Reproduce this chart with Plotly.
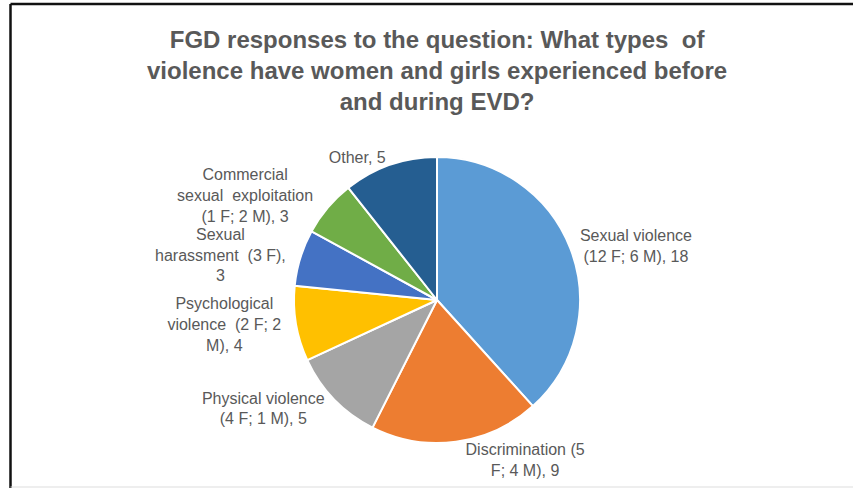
import plotly.graph_objects as go

labels = ["Sexual violence", "Discrimination", "Physical violence", "Psychological violence",
          "Sexual harassment", "Commercial sexual exploitation", "Other"]
values = [18, 9, 5, 4, 3, 3, 5]
label_text = [
    "Sexual violence<br>(12 F; 6 M), 18",
    "Discrimination (5<br>F; 4 M), 9",
    "Physical violence<br>(4 F; 1 M), 5",
    "Psychological<br>violence  (2 F; 2<br>M), 4",
    "Sexual<br>harassment  (3 F),<br>3",
    "Commercial<br>sexual  exploitation<br>(1 F; 2 M), 3",
    "Other, 5",
]
colors = ["#5B9BD5", "#ED7D31", "#A5A5A5", "#FFC000", "#4472C4", "#70AD47", "#255E91"]

W, H = 853, 488
cx, cy, r = 437, 300, 143

fig = go.Figure(go.Pie(
    labels=labels, values=values, text=label_text,
    texttemplate="%{text}", textinfo="text", textposition="outside",
    sort=False, direction="clockwise", rotation=0,
    marker=dict(colors=colors, line=dict(color="white", width=2)),
    textfont=dict(family="Liberation Sans, Arial", size=16, color="#595959"),
    showlegend=False, hoverinfo="label+value",
    domain=dict(x=[(cx - r) / W, (cx + r) / W], y=[(H - cy - r) / H, (H - cy + r) / H]),
))

fig.update_layout(
    width=W, height=H, margin=dict(l=0, r=0, t=0, b=0),
    paper_bgcolor="white", plot_bgcolor="white",
    font=dict(family="Liberation Sans, Arial", color="#595959"),
    annotations=[dict(
        text="<b>FGD responses to the question: What types  of<br>violence have women and girls experienced before<br>and during EVD?</b>",
        x=437 / W, y=1 - 24 / H, xref="paper", yref="paper", xanchor="center", yanchor="top",
        showarrow=False, font=dict(size=24, color="#595959", family="Liberation Sans, Arial"),
        align="center",
    )],
    shapes=[
        dict(type="line", xref="paper", yref="paper", x0=10.5 / W, x1=1, y0=1 - 4 / H, y1=1 - 4 / H,
             line=dict(color="#111111", width=2.5)),
        dict(type="line", xref="paper", yref="paper", x0=10.5 / W, x1=10.5 / W, y0=0, y1=1 - 4 / H,
             line=dict(color="#111111", width=2.5)),
        dict(type="line", xref="paper", yref="paper", x0=10.5 / W, x1=1, y0=1 / H, y1=1 / H,
             line=dict(color="#DDDDDD", width=1)),
    ],
)

fig.write_html("out.html")
